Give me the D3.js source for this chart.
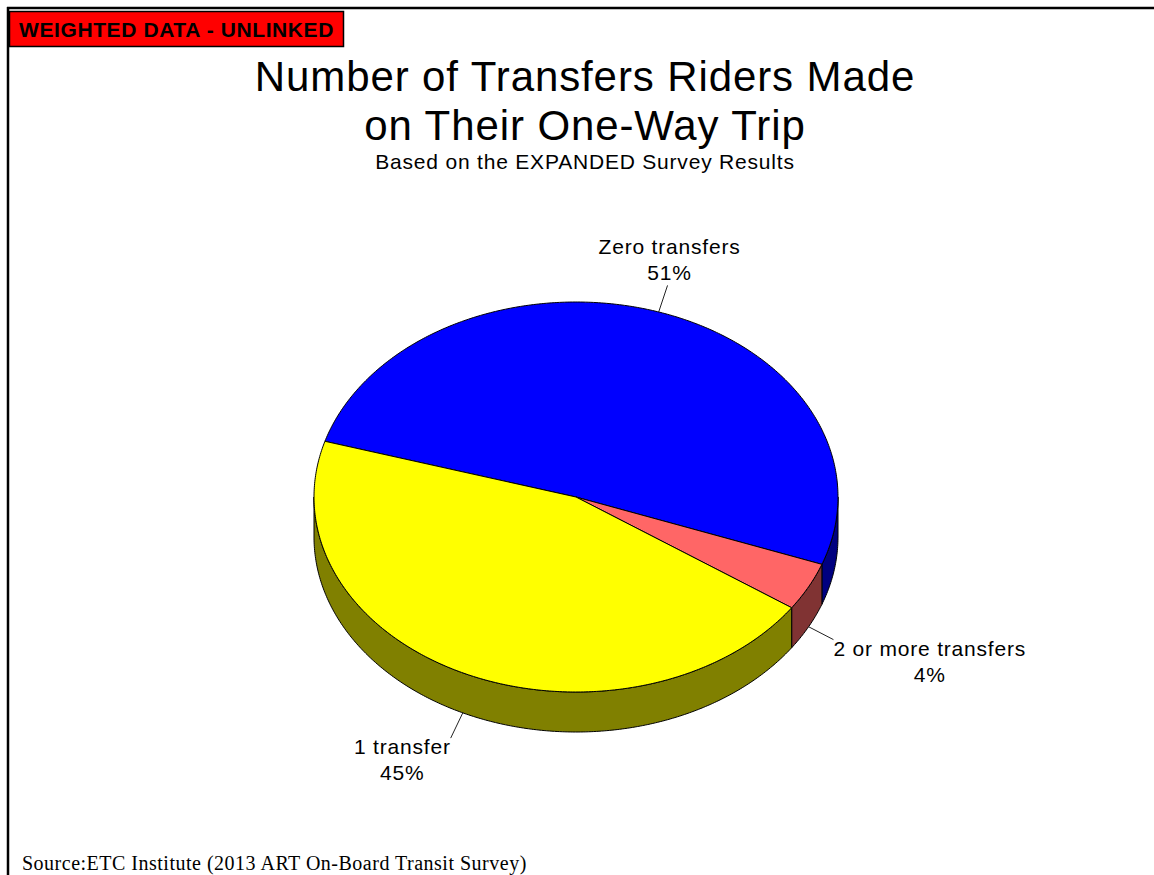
<!DOCTYPE html>
<html>
<head>
<meta charset="utf-8">
<script src="https://cdn.jsdelivr.net/npm/d3@7"></script>
<style>
  html, body { margin: 0; padding: 0; background: #fff; }
  svg { display: block; }
</style>
</head>
<body>
<svg id="chart" width="1154" height="875"></svg>
<script>
// Trip transfer shares (percent of riders)
const categories = ["Zero transfers", "2 or more transfers", "1 transfer"];
const shares = [51, 4, 45];
const topColors = ["#0000ff", "#ff6666", "#ffff00"];
const sideColors = ["#000080", "#803333", "#808000"];

const titleLines = ["Number of Transfers Riders Made", "on Their One-Way Trip"];
const subtitle = "Based on the EXPANDED Survey Results";
const badge = "WEIGHTED DATA - UNLINKED";
const source = "Source:ETC Institute (2013 ART On-Board Transit Survey)";

const W = 1154, H = 875;
const svg = d3.select("#chart");

// Page frame (top and left rules)
svg.append("line").attr("x1", 7).attr("y1", 8).attr("x2", W).attr("y2", 8)
  .attr("stroke", "#000").attr("stroke-width", 2.5);
svg.append("line").attr("x1", 8).attr("y1", 7).attr("x2", 8).attr("y2", H)
  .attr("stroke", "#000").attr("stroke-width", 2.5);

// Red badge
svg.append("rect").attr("x", 9.5).attr("y", 11.5).attr("width", 334).attr("height", 35)
  .attr("fill", "#ff0000").attr("stroke", "#000").attr("stroke-width", 1.5);
svg.append("text").attr("x", 176.5).attr("y", 37)
  .attr("text-anchor", "middle")
  .attr("font-family", "'Liberation Sans', Arial, sans-serif")
  .attr("font-weight", "bold").attr("font-size", 21)
  .attr("letter-spacing", 0.6)
  .attr("fill", "#000").text(badge);

// Titles
svg.selectAll("text.title").data(titleLines).join("text")
  .attr("class", "title")
  .attr("x", 585).attr("y", (d, i) => 91 + i * 49)
  .attr("text-anchor", "middle")
  .attr("font-family", "'Liberation Sans', Arial, sans-serif")
  .attr("font-size", 42).attr("letter-spacing", 0.9)
  .attr("fill", "#000").text(d => d);
svg.append("text").attr("x", 585).attr("y", 169)
  .attr("text-anchor", "middle")
  .attr("font-family", "'Liberation Sans', Arial, sans-serif")
  .attr("font-size", 21).attr("letter-spacing", 0.8)
  .attr("fill", "#000").text(subtitle);

// Source note
svg.append("text").attr("x", 22).attr("y", 870)
  .attr("font-family", "'Liberation Serif', 'Times New Roman', serif")
  .attr("font-size", 20).attr("letter-spacing", 0.5)
  .attr("fill", "#000").text(source);

// ---- 3D pie ----
const cx = 576, cy = 497, rx = 262, ry = 195, depth = 40;
const startAngle = -73.4 * Math.PI / 180;

const pie = d3.pie().sort(null).value(d => d.v)
  .startAngle(startAngle).endAngle(startAngle + 2 * Math.PI);
const data = categories.map((c, i) => ({ c, v: shares[i], i }));
const arcs = pie(data);

// angle -> point on the tilted ellipse (d3 convention: 0 at 12 o'clock, clockwise)
const px = a => cx + rx * Math.sin(a);
const py = (a, dz = 0) => cy - ry * Math.cos(a) + dz;

function arcPoints(a0, a1, dz) {
  const n = Math.max(2, Math.ceil(Math.abs(a1 - a0) / 0.01));
  return d3.range(n + 1).map(k => {
    const a = a0 + (a1 - a0) * k / n;
    return [px(a), py(a, dz)];
  });
}

const line = d3.line();
const gSide = svg.append("g");
const gTop = svg.append("g");

// Side walls: only the front half of the rim (angles between 90° and 270°) is visible
arcs.forEach(d => {
  [-2 * Math.PI, 0, 2 * Math.PI].forEach(off => {
    const lo = Math.max(d.startAngle, Math.PI / 2 + off);
    const hi = Math.min(d.endAngle, 3 * Math.PI / 2 + off);
    if (hi > lo) {
      const topEdge = arcPoints(lo, hi, 0);
      const botEdge = arcPoints(hi, lo, depth);
      gSide.append("path")
        .attr("d", line(topEdge.concat(botEdge)) + "Z")
        .attr("fill", sideColors[d.data.i])
        .attr("stroke", "#000").attr("stroke-width", 1)
        .attr("stroke-linejoin", "round");
    }
  });
});

// Top faces
arcs.forEach(d => {
  const pts = [[cx, cy]].concat(arcPoints(d.startAngle, d.endAngle, 0));
  gTop.append("path")
    .attr("d", line(pts) + "Z")
    .attr("fill", topColors[d.data.i])
    .attr("stroke", "#000").attr("stroke-width", 1)
    .attr("stroke-linejoin", "round");
});

// Labels with leader lines
const gLab = svg.append("g")
  .attr("font-family", "'Liberation Sans', Arial, sans-serif")
  .attr("font-size", 21).attr("letter-spacing", 0.8).attr("fill", "#000");
const lead = 28, lineGap = 26;

arcs.forEach(d => {
  const m = (d.startAngle + d.endAngle) / 2;
  const front = Math.cos(m) < 0;
  const sx = px(m), sy = py(m, front ? depth : 0);
  const ex = sx + lead * Math.sin(m), ey = sy - lead * Math.cos(m);
  gLab.append("line")
    .attr("x1", sx).attr("y1", sy).attr("x2", ex).attr("y2", ey)
    .attr("stroke", "#222").attr("stroke-width", 1);

  const lines = [d.data.c, d.data.v + "%"];
  const t = gLab.append("text").attr("text-anchor", "middle");
  const spans = lines.map((s, k) => t.append("tspan").text(s));
  const wBlock = d3.max(spans, s => s.node().getComputedTextLength());

  const mDeg = ((m * 180 / Math.PI) % 360 + 360) % 360;
  const nearTop = mDeg < 35 || mDeg > 325;
  let centerX, firstBase;
  if (nearTop) {
    centerX = ex + 2;
    firstBase = ey - 5 - lineGap;
  } else if (Math.sin(m) > 0) {
    centerX = ex + wBlock / 2;
    firstBase = ey + 16;
  } else {
    centerX = ex - wBlock / 2;
    firstBase = ey + 16;
  }
  spans.forEach((s, k) => s.attr("x", centerX).attr("y", firstBase + k * lineGap));
});
</script>
</body>
</html>
